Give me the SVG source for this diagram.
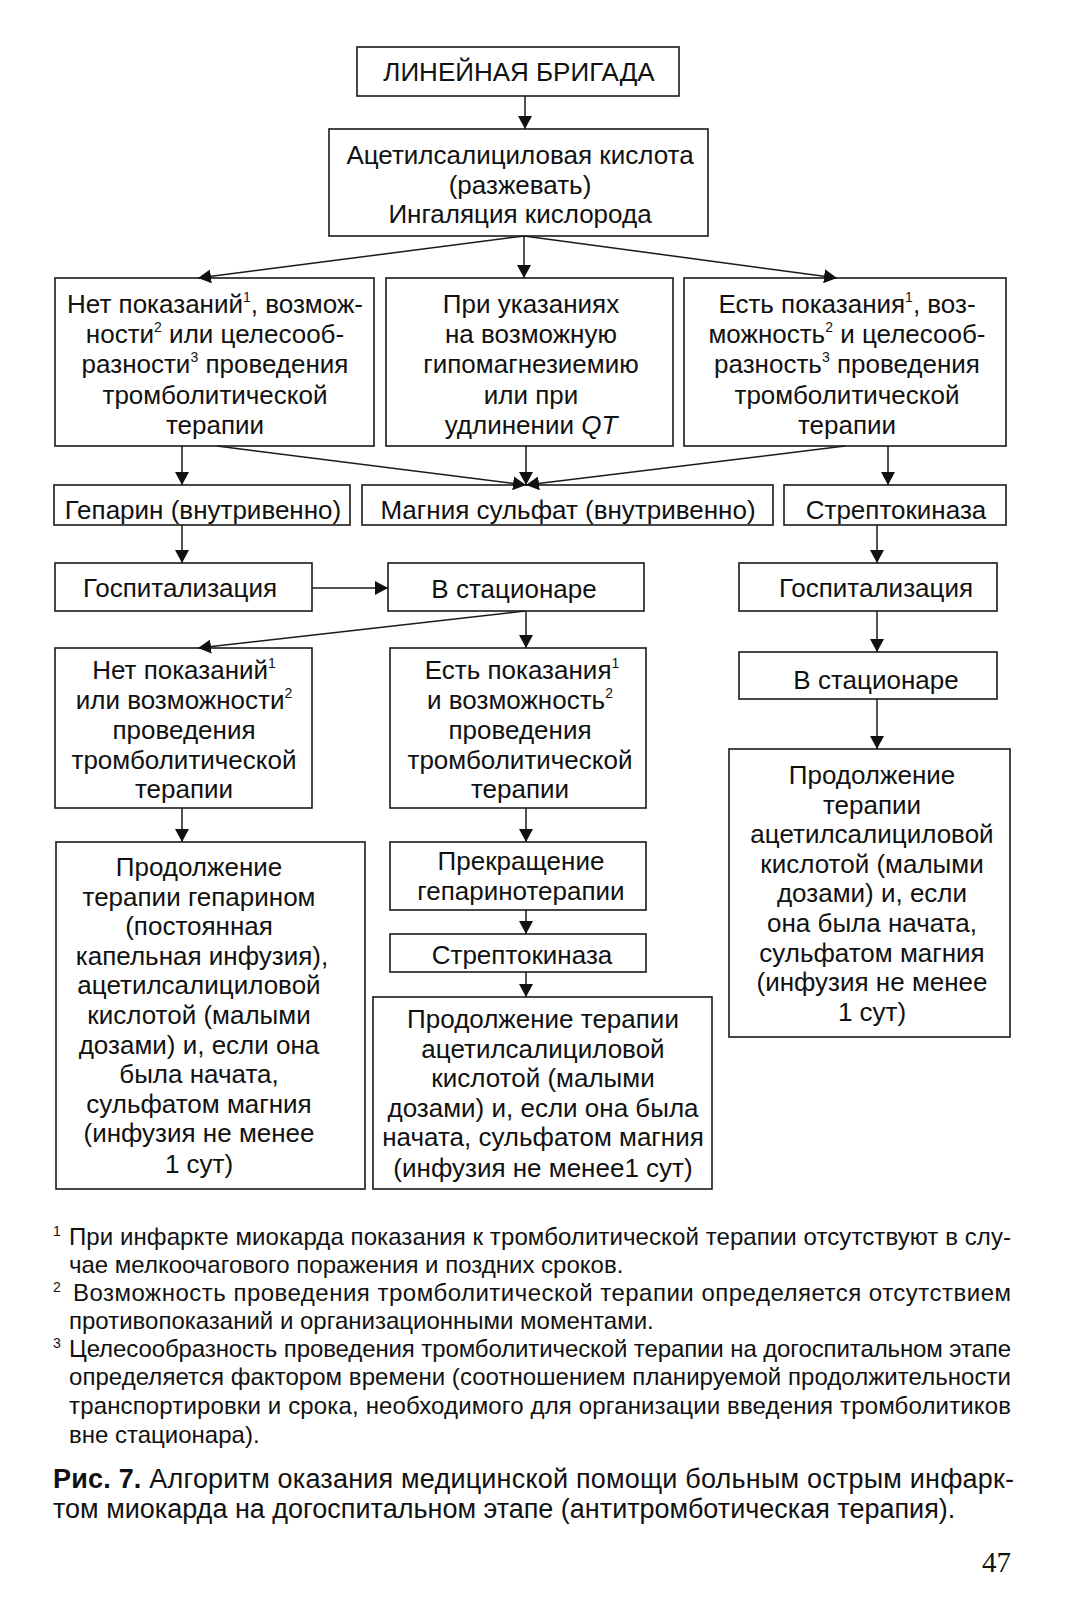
<svg xmlns="http://www.w3.org/2000/svg" width="1067" height="1601" viewBox="0 0 1067 1601">
<defs>
<marker id="ah" markerUnits="userSpaceOnUse" markerWidth="14" markerHeight="14" refX="13" refY="7" orient="auto" viewBox="0 0 14 14">
<path d="M0,0 L13,7 L0,14 z" fill="#111"/>
</marker>
<style>
.box{fill:#fff;stroke:#1a1a1a;stroke-width:1.6}
.t{font-family:"Liberation Sans",Arial,sans-serif;font-size:26px;fill:#111;text-anchor:middle}
.sup{font-size:14px}
.fn{font-family:"Liberation Sans",Arial,sans-serif;font-size:24px;fill:#111}
.fs{font-size:14px}
.cap{font-family:"Liberation Sans",Arial,sans-serif;font-size:27px;fill:#111}
.conn path{fill:none;stroke:#1a1a1a;stroke-width:1.5;marker-end:url(#ah)}
</style>
</defs>
<rect width="1067" height="1601" fill="#fff"/>

<g id="n1"><rect class="box" x="357" y="47" width="322" height="49"/><text class="t" x="519" y="81">ЛИНЕЙНАЯ БРИГАДА</text></g>
<g id="n2"><rect class="box" x="329" y="129" width="379" height="107"/>
<text class="t" x="520" y="164">Ацетилсалициловая кислота</text>
<text class="t" x="520" y="194">(разжевать)</text>
<text class="t" x="520" y="223">Ингаляция кислорода</text></g>

<g id="n3"><rect class="box" x="55" y="278" width="319" height="168"/>
<text class="t" x="215" y="313">Нет показаний<tspan class="sup" dy="-11">1</tspan><tspan dy="11">, возмож-</tspan></text>
<text class="t" x="215" y="343">ности<tspan class="sup" dy="-11">2</tspan><tspan dy="11"> или целесооб-</tspan></text>
<text class="t" x="215" y="373">разности<tspan class="sup" dy="-11">3</tspan><tspan dy="11"> проведения</tspan></text>
<text class="t" x="215" y="404">тромболитической</text>
<text class="t" x="215" y="434">терапии</text></g>
<g id="n4"><rect class="box" x="386" y="278" width="287" height="168"/>
<text class="t" x="531" y="313">При указаниях</text>
<text class="t" x="531" y="343">на возможную</text>
<text class="t" x="531" y="373">гипомагнезиемию</text>
<text class="t" x="531" y="404">или при</text>
<text class="t" x="531" y="434">удлинении <tspan font-style="italic">QT</tspan></text></g>
<g id="n5"><rect class="box" x="684" y="278" width="322" height="168"/>
<text class="t" x="847" y="313">Есть показания<tspan class="sup" dy="-11">1</tspan><tspan dy="11">, воз-</tspan></text>
<text class="t" x="847" y="343">можность<tspan class="sup" dy="-11">2</tspan><tspan dy="11"> и целесооб-</tspan></text>
<text class="t" x="847" y="373">разность<tspan class="sup" dy="-11">3</tspan><tspan dy="11"> проведения</tspan></text>
<text class="t" x="847" y="404">тромболитической</text>
<text class="t" x="847" y="434">терапии</text></g>

<g id="n6"><rect class="box" x="54" y="485" width="296" height="40"/><text class="t" x="203" y="519">Гепарин (внутривенно)</text></g>
<g id="n7"><rect class="box" x="362" y="485" width="411" height="40"/><text class="t" x="568" y="519">Магния сульфат (внутривенно)</text></g>
<g id="n8"><rect class="box" x="784" y="485" width="222" height="40"/><text class="t" x="896" y="519">Стрептокиназа</text></g>

<g id="n9"><rect class="box" x="55" y="563" width="257" height="48"/><text class="t" x="180" y="597">Госпитализация</text></g>
<g id="n10"><rect class="box" x="388" y="563" width="256" height="48"/><text class="t" x="514" y="598">В стационаре</text></g>
<g id="n11"><rect class="box" x="739" y="563" width="258" height="48"/><text class="t" x="876" y="597">Госпитализация</text></g>

<g id="n12"><rect class="box" x="55" y="648" width="257" height="160"/>
<text class="t" x="184" y="679">Нет показаний<tspan class="sup" dy="-11">1</tspan></text>
<text class="t" x="184" y="709">или возможности<tspan class="sup" dy="-11">2</tspan></text>
<text class="t" x="184" y="739">проведения</text>
<text class="t" x="184" y="769">тромболитической</text>
<text class="t" x="184" y="798">терапии</text></g>
<g id="n13"><rect class="box" x="390" y="648" width="256" height="160"/>
<text class="t" x="522" y="679">Есть показания<tspan class="sup" dy="-11">1</tspan></text>
<text class="t" x="520" y="709">и возможность<tspan class="sup" dy="-11">2</tspan></text>
<text class="t" x="520" y="739">проведения</text>
<text class="t" x="520" y="769">тромболитической</text>
<text class="t" x="520" y="798">терапии</text></g>
<g id="n14"><rect class="box" x="739" y="652" width="258" height="47"/><text class="t" x="876" y="689">В стационаре</text></g>

<g id="n15"><rect class="box" x="729" y="749" width="281" height="288"/>
<text class="t" x="872" y="784">Продолжение</text>
<text class="t" x="872" y="814">терапии</text>
<text class="t" x="872" y="843">ацетилсалициловой</text>
<text class="t" x="872" y="873">кислотой (малыми</text>
<text class="t" x="872" y="902">дозами) и, если</text>
<text class="t" x="872" y="932">она была начата,</text>
<text class="t" x="872" y="962">сульфатом магния</text>
<text class="t" x="872" y="991">(инфузия не менее</text>
<text class="t" x="872" y="1021">1 сут)</text></g>

<g id="n16"><rect class="box" x="56" y="842" width="309" height="347"/>
<text class="t" x="199" y="876">Продолжение</text>
<text class="t" x="199" y="906">терапии гепарином</text>
<text class="t" x="199" y="935">(постоянная</text>
<text class="t" x="202" y="965">капельная инфузия),</text>
<text class="t" x="199" y="994">ацетилсалициловой</text>
<text class="t" x="199" y="1024">кислотой (малыми</text>
<text class="t" x="199" y="1054">дозами) и, если она</text>
<text class="t" x="199" y="1083">была начата,</text>
<text class="t" x="199" y="1113">сульфатом магния</text>
<text class="t" x="199" y="1142">(инфузия не менее</text>
<text class="t" x="199" y="1173">1 сут)</text></g>

<g id="n17"><rect class="box" x="390" y="842" width="256" height="68"/>
<text class="t" x="521" y="870">Прекращение</text>
<text class="t" x="521" y="900">гепаринотерапии</text></g>
<g id="n18"><rect class="box" x="390" y="934" width="256" height="38"/><text class="t" x="522" y="964">Стрептокиназа</text></g>
<g id="n19"><rect class="box" x="373" y="997" width="339" height="192"/>
<text class="t" x="543" y="1028">Продолжение терапии</text>
<text class="t" x="543" y="1058">ацетилсалициловой</text>
<text class="t" x="543" y="1087">кислотой (малыми</text>
<text class="t" x="543" y="1117">дозами) и, если она была</text>
<text class="t" x="543" y="1146">начата, сульфатом магния</text>
<text class="t" x="543" y="1177">(инфузия не менее1 сут)</text></g>

<g id="connectors" class="conn">
<path d="M525,96 L525,129"/>
<path d="M524,236 L198,278"/>
<path d="M524,236 L524,278"/>
<path d="M524,236 L837,278"/>
<path d="M182,446 L182,485"/>
<path d="M217,446 L526,485"/>
<path d="M526,446 L526,485"/>
<path d="M845,446 L526,485"/>
<path d="M888,446 L888,485"/>
<path d="M182,525 L182,563"/>
<path d="M877,525 L877,563"/>
<path d="M312,588 L388,588"/>
<path d="M525,611 L198,648"/>
<path d="M526,611 L526,648"/>
<path d="M877,611 L877,652"/>
<path d="M877,699 L877,749"/>
<path d="M182,808 L182,842"/>
<path d="M526,808 L526,842"/>
<path d="M526,910 L526,934"/>
<path d="M526,972 L526,997"/>
</g>

<g id="footnotes">
<text class="fn" x="53" y="1236"><tspan class="fs">1</tspan></text>
<text class="fn" x="69" y="1245" textLength="942" lengthAdjust="spacing">При инфаркте миокарда показания к тромболитической терапии отсутствуют в слу-</text>
<text class="fn" x="69" y="1273">чае мелкоочагового поражения и поздних сроков.</text>
<text class="fn" x="53" y="1292"><tspan class="fs">2</tspan></text>
<text class="fn" x="73" y="1301" textLength="938" lengthAdjust="spacing">Возможность проведения тромболитической терапии определяется отсутствием</text>
<text class="fn" x="69" y="1329">противопоказаний и организационными моментами.</text>
<text class="fn" x="53" y="1348"><tspan class="fs">3</tspan></text>
<text class="fn" x="69" y="1357" textLength="942" lengthAdjust="spacing">Целесообразность проведения тромболитической терапии на догоспитальном этапе</text>
<text class="fn" x="69" y="1385" textLength="942" lengthAdjust="spacing">определяется фактором времени (соотношением планируемой продолжительности</text>
<text class="fn" x="69" y="1414" textLength="942" lengthAdjust="spacing">транспортировки и срока, необходимого для организации введения тромболитиков</text>
<text class="fn" x="69" y="1443">вне стационара).</text>
</g>

<g id="caption">
<text class="cap" x="53" y="1488" textLength="961" lengthAdjust="spacing"><tspan font-weight="bold">Рис. 7.</tspan> Алгоритм оказания медицинской помощи больным острым инфарк-</text>
<text class="cap" x="53" y="1518">том миокарда на догоспитальном этапе (антитромботическая терапия).</text>
<text x="982" y="1572" font-family="'Liberation Serif','Times New Roman',serif" font-size="29" fill="#111">47</text>
</g>
</svg>
